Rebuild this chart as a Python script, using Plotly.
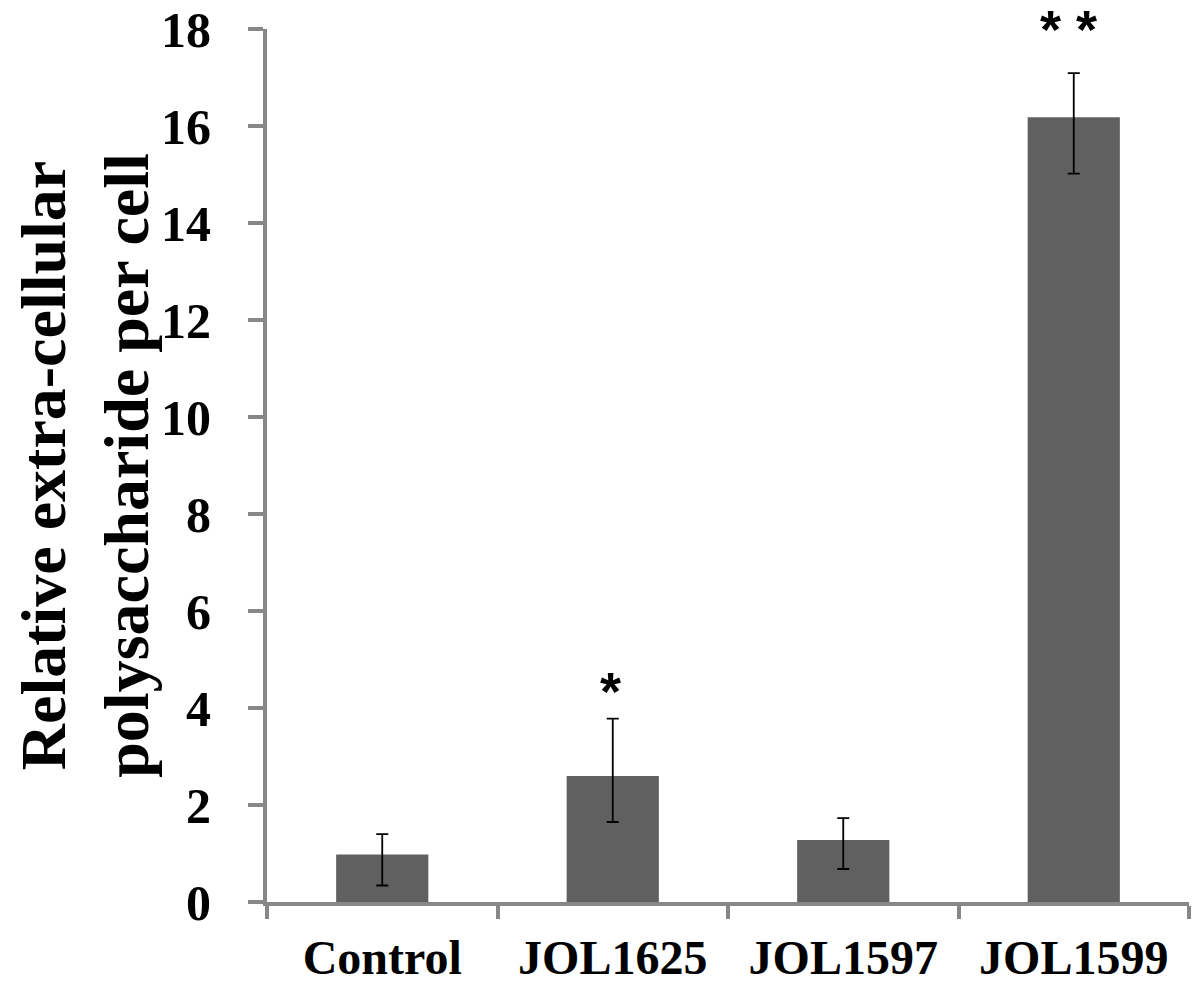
import plotly.graph_objects as go

# values
strains = ["Control", "JOL1625", "JOL1597", "JOL1599"]
eps_per_cell = [0.98, 2.60, 1.28, 16.18]
err_up = [0.42, 1.18, 0.45, 0.91]
err_down = [0.64, 0.95, 0.60, 1.16]

# significance marks (the second one sits just above the axis top)
sig_strains = ["JOL1625", "JOL1599"]
sig_labels = ["*", "* *"]
sig_y = [4.36, 18.0]

axis_grey = "#878787"
serif = "Liberation Serif"

fig = go.Figure()
fig.add_trace(go.Bar(
    x=strains,
    y=eps_per_cell,
    marker=dict(color="#606060", line=dict(width=0)),
    error_y=dict(type="data", symmetric=False, array=err_up, arrayminus=err_down,
                 color="black", thickness=1.8, width=6),
    showlegend=False,
))

for s, lab, yy, dx in zip(sig_strains, sig_labels, sig_y, [-2, -5]):
    fig.add_annotation(x=s, y=yy, xshift=dx, text=lab, showarrow=False,
                       font=dict(family="Liberation Sans", size=54, weight="bold", color="black"),
                       xanchor="center", yanchor="middle")

# page body adds an 8px offset, margins compensate for it
fig.update_layout(
    width=1200, height=990,
    margin=dict(l=259, r=19, t=21, b=96),
    paper_bgcolor="white", plot_bgcolor="white",
    bargap=0.6,
    font=dict(family=serif, color="black"),
)
fig.update_xaxes(
    automargin=False,
    showline=True, linecolor=axis_grey, linewidth=4,
    ticks="outside", tickson="boundaries", ticklen=13, tickwidth=4, tickcolor=axis_grey,
    tickfont=dict(family=serif, size=48, weight="bold", color="black"),
    ticklabelstandoff=10,
    showgrid=False, zeroline=False,
)
fig.update_yaxes(
    automargin=False,
    range=[0, 18], dtick=2,
    showline=True, linecolor=axis_grey, linewidth=4,
    ticks="outside", ticklen=15, tickwidth=4, tickcolor=axis_grey,
    tickfont=dict(family=serif, size=50, weight="bold", color="black"),
    ticklabelstandoff=27, ticklabeloverflow="allow",
    showgrid=False, zeroline=False,
    title=dict(text="Relative extra-cellular<br>polysaccharide per cell",
               font=dict(family=serif, size=64, weight="bold", color="black")),
)

fig.write_html("out.html")
